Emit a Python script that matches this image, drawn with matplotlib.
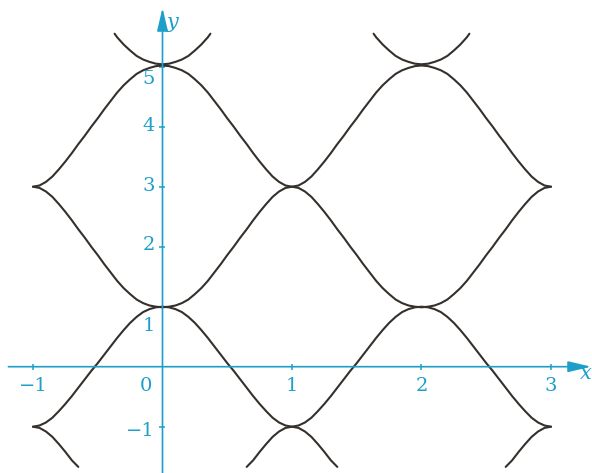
import matplotlib
matplotlib.use('Agg')
import matplotlib.pyplot as plt
import numpy as np

# x grid for the long curves, from -1 to 3 in steps of 0.05
xs = np.linspace(-1, 3, 81)

upper_hump = [3.00, 3.02, 3.08, 3.17, 3.29, 3.42, 3.56, 3.71, 3.85, 4.00, 4.14,
              4.29, 4.43, 4.57, 4.69, 4.79, 4.88, 4.94, 4.98, 5.01, 5.02,
              5.01, 4.98, 4.94, 4.88, 4.79, 4.69, 4.57, 4.43, 4.29, 4.14,
              4.00, 3.85, 3.71, 3.56, 3.42, 3.29, 3.17, 3.08, 3.02, 3.00,
              3.02, 3.08, 3.17, 3.29, 3.42, 3.56, 3.71, 3.85, 4.00, 4.14,
              4.29, 4.43, 4.57, 4.69, 4.79, 4.88, 4.94, 4.98, 5.01, 5.02,
              5.01, 4.98, 4.94, 4.88, 4.79, 4.69, 4.57, 4.43, 4.29, 4.14,
              4.00, 3.85, 3.71, 3.56, 3.42, 3.29, 3.17, 3.08, 3.02, 3.00]
trough = [3.00, 2.98, 2.92, 2.83, 2.71, 2.58, 2.44, 2.29, 2.15, 2.00, 1.86,
          1.71, 1.57, 1.43, 1.31, 1.21, 1.12, 1.06, 1.02, 1.00, 0.99,
          1.00, 1.02, 1.06, 1.12, 1.21, 1.31, 1.43, 1.57, 1.71, 1.86,
          2.00, 2.15, 2.29, 2.44, 2.58, 2.71, 2.83, 2.92, 2.98, 3.00,
          2.98, 2.92, 2.83, 2.71, 2.58, 2.44, 2.29, 2.15, 2.00, 1.86,
          1.71, 1.57, 1.43, 1.31, 1.21, 1.12, 1.06, 1.02, 1.00, 0.99,
          1.00, 1.02, 1.06, 1.12, 1.21, 1.31, 1.43, 1.57, 1.71, 1.86,
          2.00, 2.15, 2.29, 2.44, 2.58, 2.71, 2.83, 2.92, 2.98, 3.00]
lower_hump = [-1.00, -0.98, -0.93, -0.85, -0.74, -0.62, -0.49, -0.35, -0.21, -0.07, 0.06,
              0.20, 0.34, 0.48, 0.61, 0.73, 0.83, 0.91, 0.96, 0.99, 1.00,
              0.99, 0.96, 0.91, 0.83, 0.73, 0.61, 0.48, 0.34, 0.20, 0.06,
              -0.07, -0.21, -0.35, -0.49, -0.62, -0.74, -0.85, -0.93, -0.98, -1.00,
              -0.98, -0.93, -0.85, -0.74, -0.62, -0.49, -0.35, -0.21, -0.07, 0.06,
              0.20, 0.34, 0.48, 0.61, 0.73, 0.83, 0.91, 0.96, 0.99, 1.00,
              0.99, 0.96, 0.91, 0.83, 0.73, 0.61, 0.48, 0.34, 0.20, 0.06,
              -0.07, -0.21, -0.35, -0.49, -0.62, -0.74, -0.85, -0.93, -0.98, -1.00]

# short pieces at the top and bottom
cap1_x = [-0.37, -0.35, -0.3, -0.25, -0.2, -0.15, -0.1, -0.05, 0.0,
          0.05, 0.1, 0.15, 0.2, 0.25, 0.3, 0.35, 0.37]
cap2_x = [1.63, 1.65, 1.7, 1.75, 1.8, 1.85, 1.9, 1.95, 2.0,
          2.05, 2.1, 2.15, 2.2, 2.25, 2.3, 2.35, 2.37]
cap_y = [5.55, 5.49, 5.37, 5.27, 5.18, 5.12, 5.08, 5.05, 5.04,
         5.05, 5.08, 5.12, 5.18, 5.27, 5.37, 5.49, 5.55]

foot1_x = [-1.0, -0.95, -0.9, -0.85, -0.8, -0.75, -0.7, -0.65]
foot1_y = [-1.00, -1.02, -1.08, -1.17, -1.29, -1.42, -1.56, -1.67]
foot2_x = [0.65, 0.7, 0.75, 0.8, 0.85, 0.9, 0.95, 1.0,
           1.05, 1.1, 1.15, 1.2, 1.25, 1.3, 1.35]
foot2_y = [-1.67, -1.56, -1.42, -1.29, -1.17, -1.08, -1.02, -1.00,
           -1.02, -1.08, -1.17, -1.29, -1.42, -1.56, -1.67]
foot3_x = [2.65, 2.7, 2.75, 2.8, 2.85, 2.9, 2.95, 3.0]
foot3_y = [-1.67, -1.56, -1.42, -1.29, -1.17, -1.08, -1.02, -1.00]

xticks = [-1, 1, 2, 3]
yticks = [-1, 1, 2, 3, 4, 5]
xtick_labels = ['\u22121', '0', '1', '2', '3']
xtick_label_pos = [-1.0, -0.13, 1.0, 2.0, 3.0]
ytick_labels = ['\u22121', '1', '2', '3', '4', '5']
ytick_label_pos = [-1.08, 0.67, 2.02, 3.02, 4.01, 4.79]

AXIS_COLOR = '#1d9fc9'
CURVE_COLOR = '#35302b'


def draw_axes(ax):
    arrow = dict(arrowstyle='-|>,head_length=1.4,head_width=0.33', color=AXIS_COLOR,
                 lw=1.2, shrinkA=0, shrinkB=0, mutation_scale=10)
    ax.annotate('', xy=(3.31, 0), xytext=(-1.19, 0), arrowprops=arrow)
    ax.annotate('', xy=(0, 5.98), xytext=(0, -1.78), arrowprops=arrow)
    ax.plot(xticks, [0] * len(xticks), ls='none', marker='|', ms=4, mew=1.1, color=AXIS_COLOR)
    ax.plot([0] * len(yticks), yticks, ls='none', marker='_', ms=4, mew=1.1, color=AXIS_COLOR)

    font = dict(family='DejaVu Serif', fontsize=14, color=AXIS_COLOR)
    for lab, pos in zip(xtick_labels, xtick_label_pos):
        ax.text(pos, -0.33, lab, ha='center', va='center', **font)
    for lab, pos in zip(ytick_labels, ytick_label_pos):
        ax.text(-0.06, pos, lab, ha='right', va='center', **font)
    ax.text(3.27, -0.12, 'x', ha='center', va='center', style='italic',
            family='DejaVu Serif', fontsize=15, color=AXIS_COLOR)
    ax.text(0.075, 5.73, 'y', ha='center', va='center', style='italic',
            family='DejaVu Serif', fontsize=15, color=AXIS_COLOR)


def main():
    fig = plt.figure(figsize=(5.92, 4.73), dpi=100)
    ax = fig.add_axes([0, 0, 1, 1])
    ax.set_xlim(-1.2548, 3.3166)
    ax.set_ylim(-1.7717, 6.1117)
    ax.axis('off')

    draw_axes(ax)

    style = dict(color=CURVE_COLOR, lw=1.5, solid_capstyle='round', solid_joinstyle='round')
    for ys in (upper_hump, trough, lower_hump):
        ax.plot(xs, ys, **style)
    ax.plot(cap1_x, cap_y, **style)
    ax.plot(cap2_x, cap_y, **style)
    ax.plot(foot1_x, foot1_y, **style)
    ax.plot(foot2_x, foot2_y, **style)
    ax.plot(foot3_x, foot3_y, **style)

    fig.savefig('out.png', dpi=100, facecolor='white')


if __name__ == '__main__':
    main()
